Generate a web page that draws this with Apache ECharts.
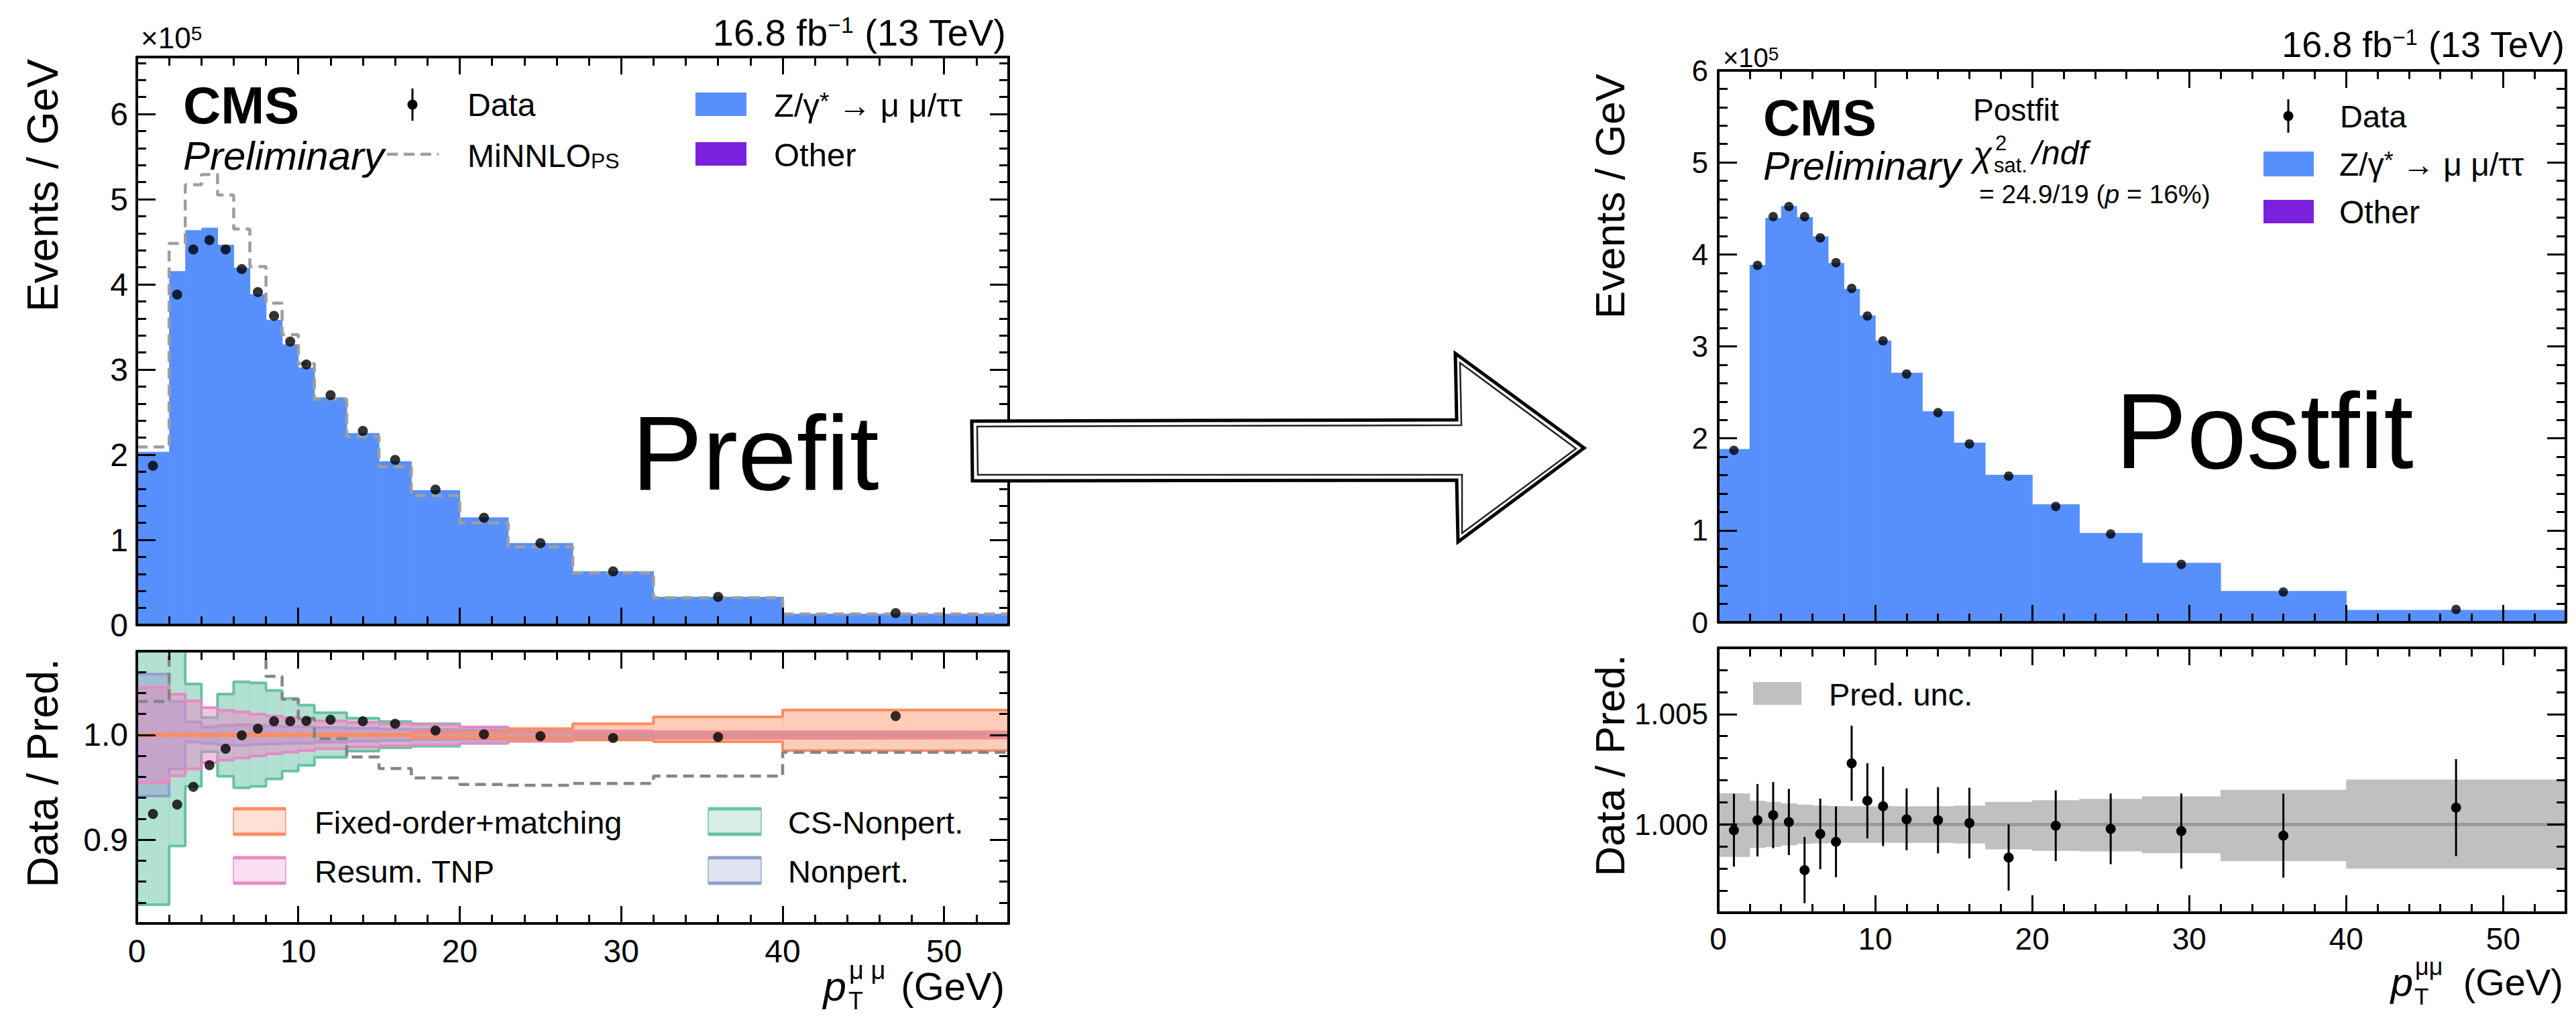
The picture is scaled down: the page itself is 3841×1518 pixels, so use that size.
<!DOCTYPE html>
<html>
<head>
<meta charset="utf-8">
<title>pT(mumu) prefit / postfit</title>
<script src="https://cdn.jsdelivr.net/npm/echarts@6/dist/echarts.min.js"></script>
<style>
  html, body { margin: 0; padding: 0; background: #fff; }
  #main { width: 3841px; height: 1518px; }
</style>
</head>
<body>
<div id="main"></div>
<script type="text/javascript">
var FONT = 'Liberation Sans, Arial, Helvetica, sans-serif';

// pT bins (GeV)
var edges   = [0, 2, 3, 4, 5, 6, 7, 8, 9, 10, 11, 13, 15, 17, 20, 23, 27, 32, 40, 54];
var centers = [1, 2.5, 3.5, 4.5, 5.5, 6.5, 7.5, 8.5, 9.5, 10.5, 12, 14, 16, 18.5, 21.5, 25, 29.5, 36, 47];

// events / GeV, in units of 1e5
var dataYield    = [1.87, 3.88, 4.41, 4.52, 4.41, 4.18, 3.91, 3.63, 3.33, 3.06, 2.70, 2.28, 1.94, 1.59, 1.26, 0.96, 0.63, 0.33, 0.14];
var zPrefit      = [2.03, 4.15, 4.63, 4.66, 4.46, 4.19, 3.88, 3.58, 3.29, 3.02, 2.67, 2.25, 1.92, 1.58, 1.26, 0.96, 0.63, 0.33, 0.13];
var minnloPrefit = [2.09, 4.48, 5.17, 5.29, 5.05, 4.65, 4.21, 3.78, 3.41, 3.07, 2.65, 2.21, 1.86, 1.52, 1.20, 0.92, 0.61, 0.32, 0.13];
var zPostfit     = [1.88, 3.88, 4.39, 4.52, 4.40, 4.19, 3.90, 3.62, 3.33, 3.06, 2.71, 2.29, 1.95, 1.60, 1.28, 0.97, 0.645, 0.34, 0.134];
var otherYield   = [0.004, 0.006, 0.006, 0.006, 0.006, 0.005, 0.005, 0.005, 0.005, 0.004, 0.004, 0.004, 0.003, 0.003, 0.003, 0.002, 0.002, 0.001, 0.001];

// prefit ratio panel
var ratioPrefit = [0.9245, 0.9335, 0.9505, 0.9712, 0.9868, 0.9996, 1.006, 1.013, 1.013, 1.0134, 1.0145, 1.013, 1.0107, 1.0043, 1.0006, 0.9989, 0.997, 0.998, 1.018];
var minnloRatio = [1.032, 1.085, 1.117, 1.135, 1.13, 1.11, 1.085, 1.056, 1.034, 1.016, 0.9964, 0.979, 0.968, 0.959, 0.9527, 0.952, 0.9537, 0.9608, 0.9835];
var foLo  = [0.9993, 0.9993, 0.9993, 0.9993, 0.9993, 0.9993, 0.9993, 0.9993, 0.9993, 0.9993, 0.9993, 0.9993, 0.9993, 0.9975, 0.9974, 0.9953, 0.9953, 0.9936, 0.985];
var foHi  = [1.0007, 1.0007, 1.0007, 1.0007, 1.0007, 1.0007, 1.0007, 1.0007, 1.0007, 1.0007, 1.0007, 1.0007, 1.0007, 1.0025, 1.0028, 1.006, 1.0107, 1.0172, 1.0238];
var tnpLo = [0.9544, 0.961, 0.9676, 0.9735, 0.976, 0.978, 0.980, 0.982, 0.9836, 0.985, 0.9868, 0.9885, 0.9896, 0.9906, 0.9925, 0.9938, 0.9953, 0.9967, 0.997];
var tnpHi = [1.0454, 1.039, 1.0326, 1.026, 1.0235, 1.022, 1.0198, 1.018, 1.0166, 1.015, 1.0134, 1.012, 1.0107, 1.0098, 1.0075, 1.0049, 1.0038, 1.003, 1.003];
var csLo  = [0.838, 0.894, 0.951, 0.984, 0.9606, 0.9495, 0.951, 0.958, 0.9655, 0.971, 0.9787, 0.9846, 0.9878, 0.9893, 0.992, 0.9945, 0.9985, 0.9997, 0.9998];
var csHi  = [1.10, 1.10, 1.0486, 1.0166, 1.039, 1.0507, 1.0497, 1.0426, 1.0348, 1.0284, 1.0213, 1.016, 1.0128, 1.0107, 1.0077, 1.0052, 1.0015, 1.0003, 1.0002];
var npLo  = [0.9416, 0.9676, 0.9932, 0.992, 0.9906, 0.990, 0.991, 0.9915, 0.992, 0.9923, 0.993, 0.9938, 0.9949, 0.9955, 0.996, 0.997, 0.998, 0.9983, 0.9985];
var npHi  = [1.058, 1.032, 1.0124, 1.0077, 1.009, 1.0098, 1.0092, 1.0085, 1.008, 1.0077, 1.007, 1.0064, 1.0055, 1.005, 1.0045, 1.003, 1.002, 1.0017, 1.0015];

// postfit ratio panel
var ratioPostfit = [0.99974, 1.00019, 1.00042, 1.00011, 0.99793, 0.99957, 0.99921, 1.00277, 1.00107, 1.00082, 1.00023, 1.00019, 1.00006, 0.9985, 0.99994, 0.9998, 0.9997, 0.99949, 1.00076];
var ratioPostErr = [0.00165, 0.00164, 0.0015, 0.0015, 0.0015, 0.0016, 0.0016, 0.0017, 0.0017, 0.0018, 0.0014, 0.0015, 0.0016, 0.0015, 0.0016, 0.0016, 0.0017, 0.0019, 0.0022];
var uncLo = [0.99853, 0.99893, 0.99898, 0.99905, 0.99912, 0.99914, 0.99916, 0.99917, 0.99917, 0.99917, 0.99916, 0.99916, 0.99914, 0.99887, 0.9988, 0.99878, 0.9987, 0.99834, 0.998];
var uncHi = [1.00141, 1.00107, 1.00102, 1.00095, 1.0009, 1.00085, 1.00083, 1.00082, 1.00082, 1.00082, 1.00082, 1.00082, 1.00085, 1.00102, 1.0011, 1.00116, 1.00127, 1.00157, 1.00203];

// ticks
var xMajor = [0, 10, 20, 30, 40, 50];
var yTopMajor = [0, 1, 2, 3, 4, 5, 6];
var yPreMajor = [0.9, 1.0];
var yPostMajor = [1.000, 1.005];

function minorTicks(lo, hi, step, majorStep) {
    var out = [];
    for (var k = Math.round(lo / step); k * step <= hi + 1e-9; k++) {
        var v = +(k * step).toFixed(6);
        var m = v / majorStep;
        if (Math.abs(m - Math.round(m)) > 1e-6) out.push(v);
    }
    return out;
}

var xAxisList = [], yAxisList = [];

function axis(gi, pos, r, ticks, len, line, label) {
    return {
        gridIndex: gi, type: 'value', position: pos, min: r.min, max: r.max, z: 10,
        splitLine: { show: false },
        axisLine: { show: line, onZero: false, lineStyle: { color: '#000', width: 4 } },
        axisTick: { show: true, inside: true, length: len, customValues: ticks, lineStyle: { color: '#000', width: 3 } },
        minorTick: { show: false },
        axisLabel: label ? Object.assign({ show: true, customValues: ticks, color: '#000', fontFamily: FONT }, label) : { show: false }
    };
}

function panelAxes(gi, xr, yr, xLab, yLab) {
    var xi = xAxisList.length, yi = yAxisList.length;
    xAxisList.push(axis(gi, 'bottom', xr, xr.major, 26, true, xLab));
    xAxisList.push(axis(gi, 'top', xr, xr.major, 26, true, null));
    xAxisList.push(axis(gi, 'bottom', xr, xr.minor, 13, false, null));
    xAxisList.push(axis(gi, 'top', xr, xr.minor, 13, false, null));
    yAxisList.push(axis(gi, 'left', yr, yr.major, 28, true, yLab));
    yAxisList.push(axis(gi, 'right', yr, yr.major, 28, true, null));
    yAxisList.push(axis(gi, 'left', yr, yr.minor, 14, false, null));
    yAxisList.push(axis(gi, 'right', yr, yr.minor, 14, false, null));
    return { x: xi, y: yi };
}

var xr = { min: 0, max: 54, major: xMajor, minor: minorTicks(2, 52, 2, 10) };
var fmtInt = function (v) { return String(Math.round(v)); };

var axLT = panelAxes(0, xr, { min: 0, max: 6.67, major: yTopMajor, minor: minorTicks(0.2, 6.6, 0.2, 1) },
    null, { fontSize: 48, margin: 13, formatter: fmtInt });
var axLB = panelAxes(1, xr, { min: 0.82, max: 1.08, major: yPreMajor, minor: minorTicks(0.84, 1.06, 0.02, 0.1) },
    { fontSize: 48, margin: 17, formatter: fmtInt },
    { fontSize: 48, margin: 13, formatter: function (v) { return v.toFixed(1); } });
var axRT = panelAxes(2, xr, { min: 0, max: 6, major: yTopMajor, minor: minorTicks(0.2, 5.8, 0.2, 1) },
    null, { fontSize: 44, margin: 15, formatter: fmtInt });
var axRB = panelAxes(3, xr, { min: 0.996, max: 1.008, major: yPostMajor, minor: minorTicks(0.997, 1.007, 0.001, 0.005) },
    { fontSize: 46, margin: 16, formatter: fmtInt },
    { fontSize: 44, margin: 15, formatter: function (v) { return v.toFixed(3); } });

// helpers for series
function rectItem(fill) {
    return function (params, api) {
        var cs = params.coordSys;
        var a = api.coord([api.value(0), api.value(2)]);
        var b = api.coord([api.value(1), api.value(3)]);
        var top = Math.max(cs.y, Math.min(a[1], b[1]));
        var bot = Math.min(cs.y + cs.height, Math.max(a[1], b[1]));
        if (bot <= top) return { type: 'group', children: [] };
        return { type: 'rect', shape: { x: a[0], y: top, width: b[0] - a[0] + 0.6, height: bot - top }, style: { fill: fill } };
    };
}

function histSeries(ax, base, vals, fill, z) {
    return {
        type: 'custom', xAxisIndex: ax.x, yAxisIndex: ax.y, z: z, silent: true,
        data: vals.map(function (v, i) { return [edges[i], edges[i + 1], base ? base[i] : 0, (base ? base[i] : 0) + v]; }),
        renderItem: rectItem(fill)
    };
}

function stepData(vals) {
    var d = vals.map(function (v, i) { return [edges[i], v]; });
    d.push([edges[vals.length], vals[vals.length - 1]]);
    return d;
}

function stepLine(ax, vals, color, width, z, dash) {
    return {
        type: 'line', xAxisIndex: ax.x, yAxisIndex: ax.y, z: z, silent: true,
        data: stepData(vals), step: 'end', symbol: 'none', showSymbol: false, clip: true,
        lineStyle: { color: color, width: width, type: dash || 'solid' }
    };
}

function bandSeries(ax, lo, hi, fill, line, z) {
    return [
        {
            type: 'custom', xAxisIndex: ax.x, yAxisIndex: ax.y, z: z, silent: true,
            data: lo.map(function (v, i) { return [edges[i], edges[i + 1], v, hi[i]]; }),
            renderItem: rectItem(fill)
        },
        stepLine(ax, lo, line, 4, z + 0.1),
        stepLine(ax, hi, line, 4, z + 0.1)
    ];
}

function points(ax, vals, size, z) {
    return {
        type: 'scatter', xAxisIndex: ax.x, yAxisIndex: ax.y, z: z, silent: true,
        symbol: 'circle', symbolSize: size, itemStyle: { color: '#000' },
        data: vals.map(function (v, i) { return [centers[i], v]; })
    };
}

var BLUE = '#5790fc', PURPLE = '#7a21dd';

var series = [];
// left top: prefit
series.push(histSeries(axLT, null, otherYield, PURPLE, 2));
series.push(histSeries(axLT, otherYield, zPrefit, BLUE, 2));
series.push(stepLine(axLT, minnloPrefit, '#9e9e9e', 4.5, 4, [16, 9]));
series.push(points(axLT, dataYield, 15, 6));

// left bottom: prefit ratio with uncertainty bands
series = series.concat(bandSeries(axLB, csLo, csHi, 'rgba(102,194,165,0.5)', '#66c2a5', 2));
series = series.concat(bandSeries(axLB, npLo, npHi, 'rgba(141,160,203,0.5)', '#8da0cb', 3));
series = series.concat(bandSeries(axLB, tnpLo, tnpHi, 'rgba(231,138,195,0.5)', '#e78ac3', 4));
series = series.concat(bandSeries(axLB, foLo, foHi, 'rgba(252,141,98,0.45)', '#fc8d62', 5));
series.push(stepLine(axLB, minnloRatio, '#858585', 4.5, 6, [16, 9]));
series.push(points(axLB, ratioPrefit, 15, 7));

// right top: postfit
series.push(histSeries(axRT, null, otherYield, PURPLE, 2));
series.push(histSeries(axRT, otherYield, zPostfit, BLUE, 2));
series.push(points(axRT, dataYield, 14, 6));

// right bottom: postfit ratio
var uncBand = histSeries(axRB, null, uncLo, '#c0c0c0', 2);
uncBand.data = uncLo.map(function (v, i) { return [edges[i], edges[i + 1], v, uncHi[i]]; });
uncBand.markLine = {
    silent: true, symbol: 'none', label: { show: false },
    lineStyle: { color: '#9a9a9a', width: 5, type: 'solid' },
    data: [{ yAxis: 1 }]
};
series.push(uncBand);
series.push({
    type: 'custom', xAxisIndex: axRB.x, yAxisIndex: axRB.y, z: 6, silent: true,
    data: ratioPostfit.map(function (v, i) { return [centers[i], v, ratioPostErr[i]]; }),
    renderItem: function (params, api) {
        var x = api.value(0), y = api.value(1), e = api.value(2);
        var p = api.coord([x, y]), t = api.coord([x, y + e]), b = api.coord([x, y - e]);
        return {
            type: 'group', children: [
                { type: 'line', shape: { x1: p[0], y1: t[1], x2: p[0], y2: b[1] }, style: { stroke: '#000', lineWidth: 3 } },
                { type: 'circle', shape: { cx: p[0], cy: p[1], r: 7.5 }, style: { fill: '#000' } }
            ]
        };
    }
});

// annotation helpers
function rs(size, extra) { return Object.assign({ fontSize: size, fontFamily: FONT, fill: '#000' }, extra || {}); }
function txt(x, y, s, size, o) {
    o = o || {};
    var st = {
        text: s, fill: '#000', fontFamily: FONT, fontSize: size,
        fontWeight: o.bold ? 'bold' : 'normal', fontStyle: o.italic ? 'italic' : 'normal',
        textAlign: o.align || 'left', textVerticalAlign: 'middle',
        align: o.align || 'left', verticalAlign: 'middle'
    };
    if (o.rich) st.rich = o.rich;
    return { type: 'text', x: x, y: y, rotation: o.rot || 0, z: 50, silent: true, style: st };
}
function box(x, y, w, h, fill) {
    return { type: 'rect', z: 50, silent: true, shape: { x: x, y: y, width: w, height: h }, style: { fill: fill } };
}
function seg(x1, y1, x2, y2, color, w, dash) {
    return { type: 'line', z: 50, silent: true, shape: { x1: x1, y1: y1, x2: x2, y2: y2 }, style: { stroke: color, lineWidth: w, lineDash: dash || null } };
}
function dataKey(x, y, half) {
    return [seg(x, y - half, x, y + half, '#000', 3), { type: 'circle', z: 50, silent: true, shape: { cx: x, cy: y, r: 7.5 }, style: { fill: '#000' } }];
}
function bandKey(x, y, w, h, fill, line) {
    return [
        { type: 'rect', z: 50, silent: true, shape: { x: x, y: y, width: w, height: h }, style: { fill: fill, stroke: line, lineWidth: 1.5, opacity: 0.9 } },
        seg(x, y, x + w, y, line, 5), seg(x, y + h, x + w, y + h, line, 5)
    ];
}

var G = [];

// ---- left panel annotations
G.push(txt(210, 56, '{a|×10}{s|5}', 44, { rich: { a: rs(44), s: rs(30, { verticalAlign: 'top' }) } }));
G.push(txt(1500, 48, '{a|16.8 fb}{s|−1}{a| (13 TeV)}', 56, { align: 'right', rich: { a: rs(56), s: rs(34, { verticalAlign: 'top' }) } }));
G.push(txt(273, 157, 'CMS', 78, { bold: true }));
G.push(txt(273, 232, 'Preliminary', 60, { italic: true }));
G = G.concat(dataKey(615, 156, 24));
G.push(txt(697, 156, 'Data', 48));
G.push(seg(577, 230, 654, 230, '#9e9e9e', 4.5, [16, 9]));
G.push(txt(697, 232, '{a|MiNNLO}{b|PS}', 48, { rich: { a: rs(48), b: rs(32, { verticalAlign: 'bottom' }) } }));
G.push(box(1037, 138, 76, 35, BLUE));
G.push(txt(1154, 157, '{a|Z/γ}{s|*}{a| → μ μ/ττ}', 49, { rich: { a: rs(49), s: rs(37, { verticalAlign: 'top' }) } }));
G.push(box(1037, 212, 76, 35, PURPLE));
G.push(txt(1154, 231, 'Other', 49));
G.push(txt(942, 675, 'Prefit', 158));
G.push(txt(64, 88, 'Events / GeV', 64, { align: 'right', rot: Math.PI / 2 }));
G.push(txt(64, 982, 'Data / Pred.', 64, { align: 'right', rot: Math.PI / 2 }));
G = G.concat(bandKey(348, 1206, 78, 38, 'rgba(252,141,98,0.3)', '#fc8d62'));
G.push(txt(469, 1226, 'Fixed-order+matching', 47));
G = G.concat(bandKey(348, 1279, 78, 38, 'rgba(231,138,195,0.3)', '#e78ac3'));
G.push(txt(469, 1299, 'Resum. TNP', 47));
G = G.concat(bandKey(1056, 1206, 79, 38, 'rgba(102,194,165,0.3)', '#66c2a5'));
G.push(txt(1175, 1226, 'CS-Nonpert.', 47));
G = G.concat(bandKey(1056, 1279, 79, 38, 'rgba(141,160,203,0.3)', '#8da0cb'));
G.push(txt(1175, 1299, 'Nonpert.', 47));
G.push(txt(1498, 1470, '(GeV)', 58, { align: 'right' }));
G.push(txt(1262, 1470, 'p', 62, { italic: true, align: 'right' }));
G.push(txt(1265, 1492, 'T', 36));
G.push(txt(1266, 1447, 'μ μ', 38));

// ---- right panel annotations
G.push(txt(2569, 86, '{a|×10}{s|5}', 40, { rich: { a: rs(40), s: rs(28, { verticalAlign: 'top' }) } }));
G.push(txt(3824, 66, '{a|16.8 fb}{s|−1}{a| (13 TeV)}', 54, { align: 'right', rich: { a: rs(54), s: rs(33, { verticalAlign: 'top' }) } }));
G.push(txt(2629, 175, 'CMS', 76, { bold: true }));
G.push(txt(2629, 248, 'Preliminary', 59, { italic: true }));
G.push(txt(2942, 164, 'Postfit', 46));
G.push(txt(2942, 230, 'χ', 52, { italic: true }));
G.push(txt(2975, 213, '2', 31));
G.push(txt(2973, 246, 'sat.', 31));
G.push(txt(3030, 228, '/ndf', 50, { italic: true }));
G.push(txt(2951, 289, '{a|= 24.9/19 (}{i|p}{a| = 16%)}', 39, { rich: { a: rs(39), i: rs(39, { fontStyle: 'italic' }) } }));
G = G.concat(dataKey(3412, 173, 25));
G.push(txt(3489, 173, 'Data', 47));
G.push(box(3375, 226, 75, 37, BLUE));
G.push(txt(3488, 245, '{a|Z/γ}{s|*}{a| → μ μ/ττ}', 48, { rich: { a: rs(48), s: rs(36, { verticalAlign: 'top' }) } }));
G.push(box(3375, 298, 75, 35, PURPLE));
G.push(txt(3488, 316, 'Other', 48));
G.push(txt(3154, 642, 'Postfit', 160));
G.push(txt(2400, 110, 'Events / GeV', 62, { align: 'right', rot: Math.PI / 2 }));
G.push(txt(2400, 976, 'Data / Pred.', 62, { align: 'right', rot: Math.PI / 2 }));
G.push(box(2614, 1017, 72, 34, '#c0c0c0'));
G.push(txt(2727, 1035, 'Pred. unc.', 47));
G.push(txt(3822, 1464, '(GeV)', 56, { align: 'right' }));
G.push(txt(3598, 1464, 'p', 60, { italic: true, align: 'right' }));
G.push(txt(3600, 1485, 'T', 35));
G.push(txt(3601, 1441, 'μμ', 36));

// ---- sketched arrow between the two plots
G.push({
    type: 'polygon', z: 100, silent: true,
    shape: { points: [[1449, 628], [2172, 626], [2170, 527], [2362, 668], [2174, 808], [2172, 716], [1450, 717]] },
    style: { fill: '#fff', stroke: '#000', lineWidth: 5, lineJoin: 'miter' }
});
G.push({
    type: 'polygon', z: 101, silent: true,
    shape: { points: [[1457, 636], [2179, 634], [2177, 541], [2350, 669], [2180, 795], [2180, 708], [1458, 708]] },
    style: { fill: 'none', stroke: '#222', lineWidth: 2.5 }
});

var chart = echarts.init(document.getElementById('main'), null, { renderer: 'svg' });
chart.setOption({
    animation: false,
    backgroundColor: '#fff',
    textStyle: { fontFamily: FONT },
    grid: [
        { left: 204, top: 85, width: 1300, height: 847, containLabel: false, outerBoundsMode: 'none' },
        { left: 204, top: 971, width: 1300, height: 406, containLabel: false, outerBoundsMode: 'none' },
        { left: 2562, top: 105, width: 1264, height: 823, containLabel: false, outerBoundsMode: 'none' },
        { left: 2562, top: 966, width: 1264, height: 395, containLabel: false, outerBoundsMode: 'none' }
    ],
    xAxis: xAxisList,
    yAxis: yAxisList,
    series: series,
    graphic: { elements: G }
});
</script>
</body>
</html>
